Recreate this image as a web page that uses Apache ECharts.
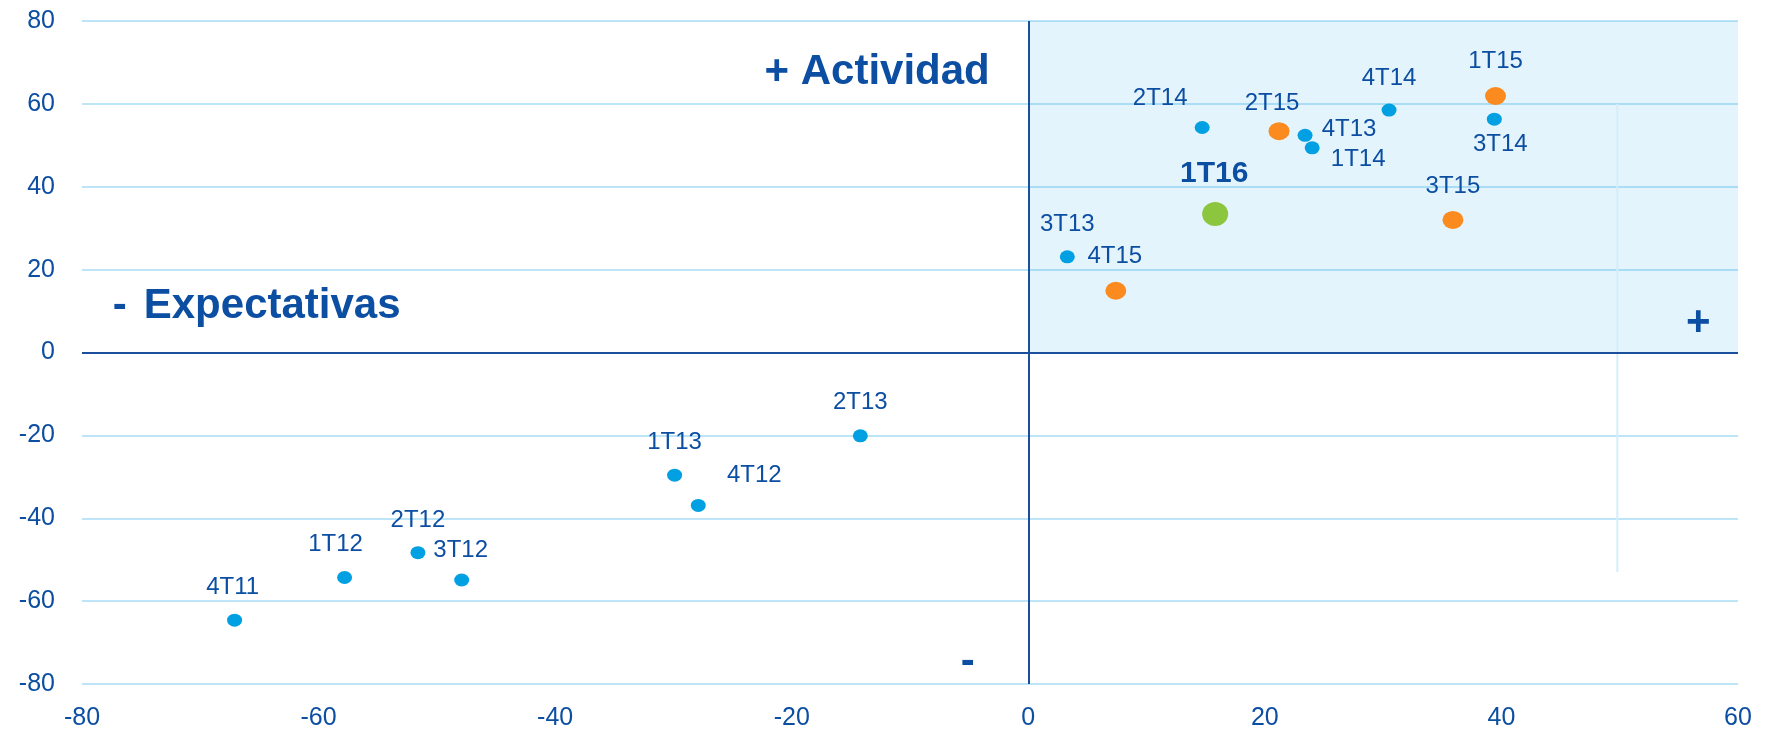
<!DOCTYPE html>
<html>
<head>
<meta charset="utf-8">
<script src="https://cdn.jsdelivr.net/npm/echarts@6/dist/echarts.min.js"></script>
<style>
  html, body { margin: 0; padding: 0; background: #fff; }
  #chart { width: 1769px; height: 731px; }
</style>
</head>
<body>
<div id="chart"></div>
<script>
// trimestres 2011-2014 (azul)
var blueNames = ["4T11", "1T12", "2T12", "3T12", "1T13", "4T12", "2T13", "3T13", "2T14", "4T13", "1T14", "4T14", "3T14"];
var blueX = [-67.1, -57.8, -51.6, -47.9, -29.9, -27.9, -14.2, 3.3, 14.7, 23.4, 24.0, 30.5, 39.4];
var blueY = [-64.6, -54.3, -48.3, -54.9, -29.6, -36.9, -20.1, 23.1, 54.3, 52.4, 49.4, 58.5, 56.3];

// trimestres 2015 (naranja)
var orangeNames = ["1T15", "2T15", "3T15", "4T15"];
var orangeX = [39.5, 21.2, 35.9, 7.4];
var orangeY = [61.9, 53.4, 32.0, 14.9];

// ultimo trimestre (verde)
var greenNames = ["1T16"];
var greenX = [15.8];
var greenY = [33.4];

var xTicks = [-80, -60, -40, -20, 0, 20, 40, 60];
var yTicks = [-80, -60, -40, -20, 0, 20, 40, 60, 80];

// linea vertical suelta en x=50
var refLine = [[49.8, 60], [49.8, -53]];

// textos del cuadrante
var noteTexts = ["{s|+ }{t|Actividad}", "{m|-}{t|Expectativas}", "{s|+}", "{s|-}"];
var noteX = [-22.3, -77.4, 55.6, -5.7];
var noteY = [67.6, 11.1, 7.1, -74.7];

// desplazamiento de etiquetas (px)
var labelOffsets = {
  "4T11": [-2, -33], "1T12": [-9, -33], "2T12": [0, -32], "3T12": [-1, -30],
  "1T13": [0, -33], "4T12": [56, -30], "2T13": [0, -33], "3T13": [0, -32],
  "2T14": [-42, -29], "4T13": [44, -6], "1T14": [46, 12], "4T14": [0, -32],
  "3T14": [6, 25], "1T15": [0, -35], "2T15": [-7, -28], "3T15": [0, -34],
  "4T15": [-1, -34], "1T16": [-1, -40]
};

var FONT = "'Liberation Sans', Arial, sans-serif";
var TXT = "#0b4ea2";

function buildPoints(names, xs, ys) {
  return names.map(function (n, i) {
    return {
      name: n,
      value: [xs[i], ys[i]],
      label: { offset: labelOffsets[n] || [0, -30] }
    };
  });
}

function pointLabel(size, weight) {
  return {
    show: true,
    position: "inside",
    formatter: "{b}",
    color: TXT,
    fontSize: size,
    fontWeight: weight,
    fontFamily: FONT
  };
}

var chart = echarts.init(document.getElementById("chart"));

var bigText = { color: TXT, fontSize: 42, fontWeight: "bold", fontFamily: FONT };

var option = {
  animation: false,
  grid: { left: 82, right: 31, top: 21, bottom: 45 },
  xAxis: {
    type: "value",
    min: -80,
    max: 60,
    interval: 20,
    axisLine: { show: false },
    axisTick: { show: false },
    splitLine: { show: false },
    axisLabel: {
      color: TXT,
      fontSize: 25,
      fontFamily: FONT,
      margin: 22,
      formatter: function (v) { return xTicks.indexOf(v) >= 0 ? String(v) : ""; }
    }
  },
  yAxis: {
    type: "value",
    min: -80,
    max: 80,
    interval: 20,
    axisLine: { show: false },
    axisTick: { show: false },
    splitLine: { show: true, lineStyle: { color: "#bce6f8", width: 2 } },
    axisLabel: {
      color: TXT,
      fontSize: 25,
      fontFamily: FONT,
      margin: 27,
      formatter: function (v) { return yTicks.indexOf(v) >= 0 ? String(v) : ""; }
    }
  },
  series: [
    {
      // cuadrante sombreado + ejes en cero
      type: "scatter",
      data: [],
      silent: true,
      markArea: {
        silent: true,
        itemStyle: { color: "rgba(0,150,225,0.105)" },
        data: [[{ coord: [0, 0] }, { coord: [60, 80] }]]
      },
      markLine: {
        silent: true,
        symbol: "none",
        label: { show: false },
        lineStyle: { color: "#1b4f9b", width: 2, type: "solid" },
        data: [
          [{ coord: [-80, 0] }, { coord: [60, 0] }],
          [{ coord: [0, -80] }, { coord: [0, 80] }]
        ]
      }
    },
    {
      type: "line",
      data: refLine,
      symbol: "none",
      silent: true,
      lineStyle: { color: "#d3eefb", width: 2 }
    },
    {
      name: "azul",
      type: "scatter",
      symbol: "circle",
      symbolSize: [15, 13],
      itemStyle: { color: "#00a0e3", opacity: 1 },
      label: pointLabel(24, "normal"),
      data: buildPoints(blueNames, blueX, blueY)
    },
    {
      name: "naranja",
      type: "scatter",
      symbol: "circle",
      symbolSize: [21, 18],
      itemStyle: { color: "#fb8a1f", opacity: 1 },
      label: pointLabel(24, "normal"),
      data: buildPoints(orangeNames, orangeX, orangeY)
    },
    {
      name: "verde",
      type: "scatter",
      symbol: "circle",
      symbolSize: [26, 24],
      itemStyle: { color: "#8cc63f", opacity: 1 },
      label: pointLabel(30, "bold"),
      data: buildPoints(greenNames, greenX, greenY)
    },
    {
      // rotulos
      type: "scatter",
      symbolSize: 0,
      silent: true,
      itemStyle: { opacity: 1 },
      label: {
        show: true,
        position: [0, 0],
        align: "left",
        verticalAlign: "middle",
        formatter: "{b}",
        rich: {
          s: bigText,
          t: bigText,
          m: Object.assign({ padding: [0, 17, 0, 0] }, bigText)
        }
      },
      data: noteTexts.map(function (t, i) {
        return { name: t, value: [noteX[i], noteY[i]] };
      })
    }
  ]
};

chart.setOption(option);
</script>
</body>
</html>
